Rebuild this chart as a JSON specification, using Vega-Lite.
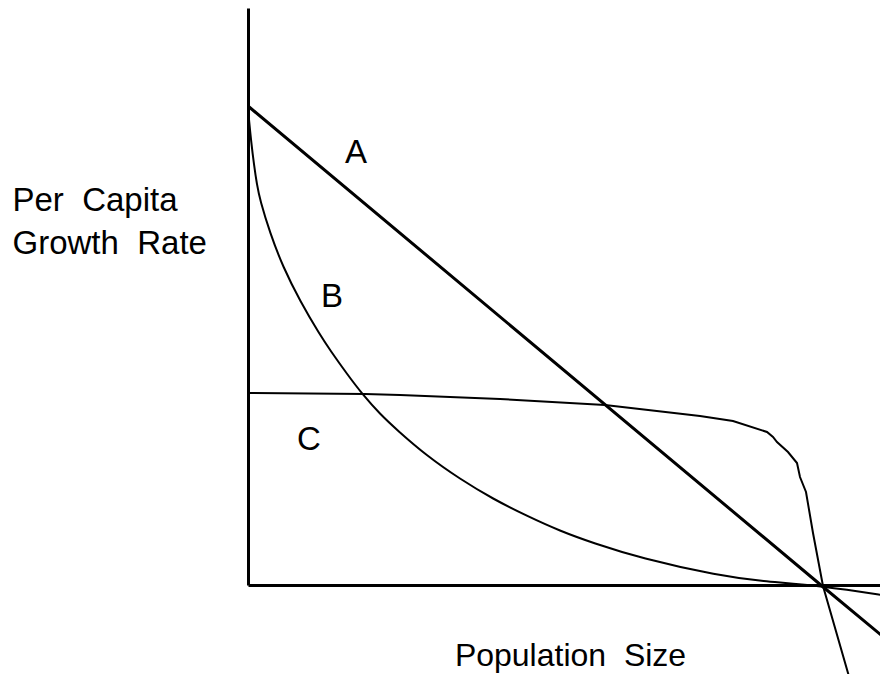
{
  "$schema": "https://vega.github.io/schema/vega-lite/v6.json",
  "width": 632,
  "height": 577,
  "autosize": {"type": "none"},
  "padding": {"left": 248, "top": 8, "right": 0, "bottom": 89},
  "background": "white",
  "config": {"view": {"stroke": null}, "font": "Liberation Sans"},
  "datasets": {
    "curves": [
      {"series": "A", "size": 0, "rate": 479},
      {"series": "A", "size": 574, "rate": -1},
      {"series": "A", "size": 650, "rate": -64},
      {"series": "B", "size": 0.5, "rate": 472},
      {"series": "B", "size": 1, "rate": 465},
      {"series": "B", "size": 3, "rate": 445},
      {"series": "B", "size": 6, "rate": 420},
      {"series": "B", "size": 9, "rate": 400},
      {"series": "B", "size": 12, "rate": 385},
      {"series": "B", "size": 22, "rate": 352},
      {"series": "B", "size": 35, "rate": 318},
      {"series": "B", "size": 52, "rate": 284},
      {"series": "B", "size": 72, "rate": 250},
      {"series": "B", "size": 82, "rate": 235},
      {"series": "B", "size": 99, "rate": 211},
      {"series": "B", "size": 115, "rate": 190},
      {"series": "B", "size": 132, "rate": 171},
      {"series": "B", "size": 149, "rate": 155},
      {"series": "B", "size": 179, "rate": 129},
      {"series": "B", "size": 212, "rate": 106},
      {"series": "B", "size": 245, "rate": 86},
      {"series": "B", "size": 279, "rate": 69},
      {"series": "B", "size": 312, "rate": 54},
      {"series": "B", "size": 345, "rate": 42},
      {"series": "B", "size": 392, "rate": 27},
      {"series": "B", "size": 472, "rate": 9},
      {"series": "B", "size": 512, "rate": 4},
      {"series": "B", "size": 574, "rate": -1},
      {"series": "B", "size": 640, "rate": -11},
      {"series": "C", "size": 0, "rate": 192},
      {"series": "C", "size": 117, "rate": 191},
      {"series": "C", "size": 152, "rate": 190},
      {"series": "C", "size": 252, "rate": 186},
      {"series": "C", "size": 357, "rate": 180},
      {"series": "C", "size": 452, "rate": 169},
      {"series": "C", "size": 485, "rate": 164},
      {"series": "C", "size": 519, "rate": 153},
      {"series": "C", "size": 525, "rate": 148},
      {"series": "C", "size": 529, "rate": 143},
      {"series": "C", "size": 540, "rate": 133},
      {"series": "C", "size": 549, "rate": 122},
      {"series": "C", "size": 552, "rate": 108},
      {"series": "C", "size": 558, "rate": 93},
      {"series": "C", "size": 565, "rate": 52},
      {"series": "C", "size": 575, "rate": -1},
      {"series": "C", "size": 600, "rate": -88},
      {"series": "C", "size": 607, "rate": -112}
    ],
    "labels": [
      {"label": "A", "size": 108, "rate": 422},
      {"label": "B", "size": 84, "rate": 278},
      {"label": "C", "size": 61, "rate": 135}
    ]
  },
  "encoding": {
    "x": {
      "field": "size",
      "type": "quantitative",
      "scale": {"domain": [0, 632], "nice": false, "zero": false},
      "axis": {
        "domain": true, "domainColor": "black", "domainWidth": 3,
        "ticks": false, "labels": false, "grid": false,
        "title": "Population \u00a0Size",
        "titleFont": "Liberation Sans", "titleFontSize": 32, "titleFontWeight": "normal",
        "titleColor": "black", "titleX": 322, "titleY": 80,
        "titleAlign": "center", "titleBaseline": "alphabetic"
      }
    },
    "y": {
      "field": "rate",
      "type": "quantitative",
      "scale": {"domain": [0, 577], "nice": false, "zero": false},
      "axis": {
        "domain": true, "domainColor": "black", "domainWidth": 3,
        "ticks": false, "labels": false, "grid": false,
        "title": ["Per \u00a0Capita", "Growth \u00a0Rate"],
        "titleFont": "Liberation Sans", "titleFontSize": 33, "titleFontWeight": "normal",
        "titleColor": "black", "titleAngle": 0, "titleX": -236, "titleY": 202,
        "titleAlign": "left", "titleBaseline": "alphabetic", "titleLineHeight": 43
      }
    }
  },
  "layer": [
    {
      "data": {"name": "curves"},
      "transform": [{"filter": "datum.series === 'A'"}],
      "mark": {"type": "line", "color": "black", "strokeWidth": 3, "clip": false}
    },
    {
      "data": {"name": "curves"},
      "transform": [{"filter": "datum.series === 'B'"}],
      "mark": {"type": "line", "color": "black", "strokeWidth": 2, "interpolate": "basis", "clip": false}
    },
    {
      "data": {"name": "curves"},
      "transform": [{"filter": "datum.series === 'C'"}],
      "mark": {"type": "line", "color": "black", "strokeWidth": 2, "clip": false}
    },
    {
      "data": {"name": "labels"},
      "mark": {"type": "text", "font": "Liberation Sans", "fontSize": 33, "color": "black", "align": "center", "baseline": "alphabetic"},
      "encoding": {"text": {"field": "label"}}
    }
  ]
}
